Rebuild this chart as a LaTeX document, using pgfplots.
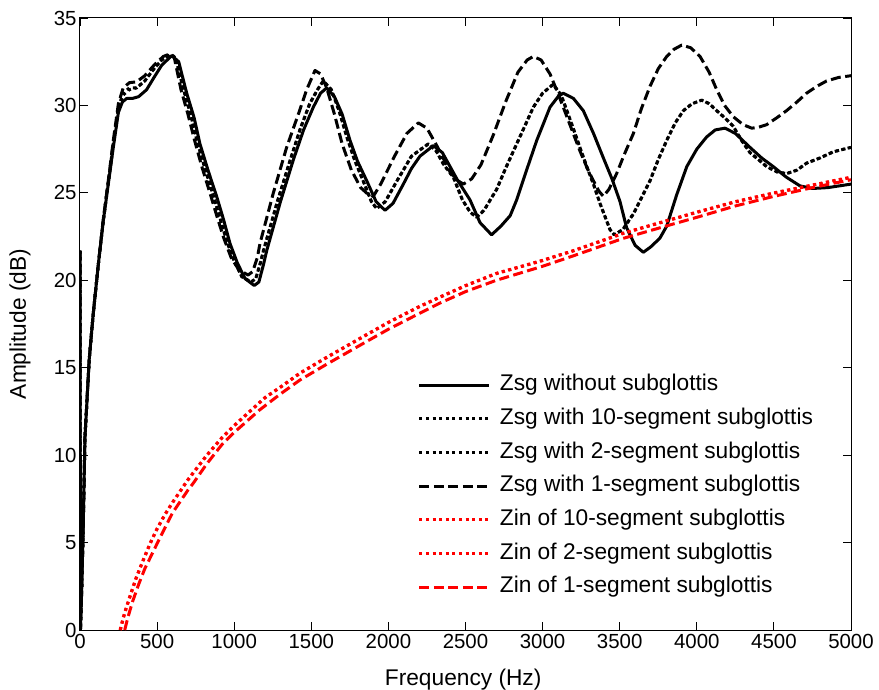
\documentclass[border=0pt]{standalone}
\usepackage{pgfplots}
\pgfplotsset{compat=1.18}
\usepackage{pgfplotstable}
\usepackage{fontspec}
\setmainfont{Liberation Sans}
\newcommand\tickfont{\fontsize{20.5}{24}\selectfont}
\newcommand\labfont{\fontsize{22.8}{27}\selectfont}

\pgfplotstableread{
f a
0 21.7
3 0
10 2.0
20 5.5
32 11.0
60 15.5
86 18.1
120 21.0
151 23.4
185 25.6
216 27.6
249 29.6
275 30.2
303 30.4
340 30.4
380 30.5
432 30.9
480 31.6
530 32.3
595 32.85
640 32.5
692 30.7
740 29.3
778 27.8
830 26.3
886 24.8
930 23.5
973 22.1
1020 21.0
1070 20.1
1130 19.7
1160 19.9
1190 20.9
1211 21.7
1300 24.5
1384 26.9
1450 28.6
1513 29.9
1560 30.7
1600 31.0
1650 30.5
1700 29.5
1751 28.0
1800 26.8
1859 25.7
1920 24.5
1978 24.0
2030 24.4
2097 25.5
2150 26.4
2205 27.1
2292 27.7
2350 27.3
2400 26.5
2450 25.7
2529 24.6
2594 23.3
2669 22.6
2730 23.1
2790 23.7
2832 24.6
2900 26.4
2962 28.0
3048 29.9
3100 30.5
3134 30.7
3200 30.4
3264 29.7
3330 28.4
3394 27.0
3450 25.8
3502 24.5
3545 23.0
3600 22.0
3653 21.6
3700 21.9
3760 22.4
3805 23.1
3870 24.9
3935 26.5
4000 27.5
4064 28.2
4120 28.6
4183 28.7
4250 28.4
4345 27.6
4420 27.0
4496 26.5
4580 25.9
4669 25.4
4750 25.25
4850 25.3
5000 25.5
}\solid

\pgfplotstableread{
f a
0 21.7
3 0
10 2.0
20 5.5
32 11.0
60 15.5
86 18.1
120 21.0
151 23.4
185 25.7
216 27.8
249 29.9
280 30.7
320 31.0
367 31.0
420 31.4
480 32.1
530 32.6
584 32.9
620 32.7
672 30.9
720 29.4
758 28.0
810 26.4
866 24.8
910 23.5
953 22.2
1000 21.1
1050 20.2
1110 19.9
1140 20.1
1170 21.0
1190 21.7
1280 24.5
1364 26.9
1430 28.7
1490 30.1
1540 30.9
1578 31.4
1630 30.9
1680 29.7
1730 28.2
1780 26.9
1840 25.6
1890 24.5
1924 24.1
1980 24.5
2050 25.6
2150 27.1
2259 27.8
2310 27.4
2360 26.6
2421 25.9
2480 24.6
2530 23.9
2572 23.6
2620 24.0
2702 25.2
2760 26.4
2832 27.8
2940 29.9
3000 30.7
3068 31.2
3120 30.6
3178 29.2
3230 27.9
3286 26.5
3330 25.5
3372 24.4
3437 22.9
3465 22.6
3520 22.9
3589 23.8
3640 24.7
3697 25.7
3750 26.9
3805 28.0
3860 29.0
3913 29.7
3970 30.1
4032 30.3
4080 30.1
4129 29.7
4180 29.3
4237 28.8
4290 28.0
4345 27.3
4400 26.9
4453 26.5
4520 26.2
4582 26.1
4650 26.3
4712 26.7
4800 27.0
4886 27.35
5000 27.6
}\dotA

\pgfplotstableread{
f a
0 21.7
3 0
10 2.0
20 5.5
32 11.0
60 15.5
86 18.1
120 21.0
151 23.4
185 25.7
216 27.8
249 29.9
280 30.6
320 30.9
367 31.0
420 31.4
480 32.1
530 32.6
584 32.9
620 32.7
672 30.9
720 29.4
758 28.0
810 26.4
866 24.8
910 23.5
953 22.2
1000 21.1
1050 20.2
1110 19.9
1140 20.1
1170 21.0
1190 21.7
1280 24.5
1364 26.9
1430 28.7
1490 30.1
1540 30.9
1578 31.4
1630 30.9
1680 29.7
1730 28.2
1780 26.9
1840 25.6
1890 24.5
1924 24.1
1980 24.5
2050 25.6
2150 27.1
2259 27.8
2310 27.4
2360 26.6
2421 25.9
2480 24.6
2530 23.9
2572 23.6
2620 24.0
2702 25.2
2760 26.4
2832 27.8
2940 29.9
3000 30.7
3068 31.2
3120 30.6
3178 29.2
3230 27.9
3286 26.5
3330 25.5
3372 24.4
3437 22.9
3465 22.6
3520 22.9
3589 23.8
3640 24.7
3697 25.7
3750 26.9
3805 28.0
3860 29.0
3913 29.7
3970 30.1
4032 30.3
4080 30.1
4129 29.7
4180 29.3
4237 28.8
4290 28.0
4345 27.3
4400 26.9
4453 26.5
4520 26.2
4582 26.1
4650 26.3
4712 26.7
4800 27.0
4886 27.35
5000 27.6
}\dotB

\pgfplotstableread{
f a
0 21.7
3 0
10 2.0
20 5.5
32 11.0
60 15.5
86 18.1
120 21.0
151 23.5
185 25.8
216 28.0
249 30.1
280 31.0
320 31.3
367 31.35
420 31.7
480 32.3
540 32.8
584 32.95
610 32.8
655 30.9
700 29.5
740 28.1
790 26.5
846 24.9
890 23.6
933 22.4
980 21.3
1030 20.6
1090 20.3
1120 20.5
1150 21.3
1167 22.1
1254 25.0
1340 27.6
1420 29.6
1470 30.9
1524 32.0
1560 31.8
1600 31.0
1650 29.5
1700 27.8
1760 26.3
1820 25.3
1870 24.9
1902 24.8
1950 25.5
2040 27.1
2120 28.4
2194 29.0
2250 28.7
2320 27.6
2400 26.2
2450 25.7
2486 25.5
2540 25.8
2600 26.6
2680 28.3
2760 30.2
2840 31.9
2900 32.6
2940 32.8
2990 32.6
3048 31.8
3090 30.9
3134 29.9
3190 28.6
3242 27.4
3290 26.4
3329 25.7
3365 25.1
3394 24.8
3430 25.2
3480 26.1
3530 27.2
3589 28.4
3640 29.8
3697 31.1
3750 32.1
3805 32.8
3850 33.2
3902 33.45
3960 33.3
4021 32.8
4080 31.9
4129 30.9
4180 30.0
4237 29.35
4300 28.9
4356 28.7
4400 28.75
4453 28.9
4520 29.3
4582 29.7
4650 30.2
4712 30.7
4780 31.1
4842 31.4
4920 31.6
5000 31.7
}\dashA

\pgfplotstableread{
f a
260 0
280 0.7
300 1.3
330 2.1
360 2.9
400 3.8
454 4.96
500 5.8
550 6.6
600 7.3
700 8.6
822 10.0
920 11.0
1000 11.7
1100 12.5
1200 13.3
1300 13.9
1427 14.7
1600 15.6
1859 16.9
2000 17.6
2200 18.5
2335 19.05
2500 19.7
2700 20.4
2983 21.1
3200 21.7
3524 22.7
3800 23.4
4000 23.9
4250 24.5
4500 25.0
4750 25.45
5000 25.9
}\redA

\pgfplotstableread{
f a
262 0
282 0.7
302 1.3
332 2.1
362 2.9
402 3.8
456 4.95
500 5.78
550 6.58
600 7.28
700 8.58
822 9.98
920 10.98
1000 11.68
1100 12.48
1200 13.28
1300 13.88
1427 14.68
1600 15.58
1859 16.88
2000 17.58
2200 18.48
2335 19.03
2500 19.68
2700 20.38
2983 21.08
3200 21.68
3524 22.68
3800 23.38
4000 23.88
4250 24.48
4500 24.98
4750 25.43
5000 25.88
}\redB

\pgfplotstableread{
f a
290 0
310 0.7
340 1.6
380 2.6
420 3.5
470 4.4
520 5.3
600 6.7
700 8.0
735 8.4
822 9.5
920 10.6
1000 11.3
1167 12.6
1300 13.5
1427 14.3
1600 15.2
1859 16.5
2000 17.2
2200 18.1
2335 18.7
2500 19.35
2700 20.0
3000 20.8
3200 21.4
3524 22.4
3800 23.1
4000 23.6
4250 24.25
4500 24.8
4750 25.3
5000 25.75
}\redC

\begin{document}
\begin{tikzpicture}
\begin{axis}[
  scale only axis, width=771bp, height=612bp,
  xmin=0, xmax=5000, ymin=0, ymax=35,
  xtick={0,500,...,5000}, ytick={0,5,...,35},
  tick align=inside, xtick pos=both, ytick pos=both,
  major tick length=8bp,
  scaled x ticks=false,
  /pgf/number format/1000 sep={},
  /pgf/number format/assume math mode=true,
  tick label style={font=\tickfont},
  xticklabel style={yshift=-1bp},
  axis line style={line width=1bp},
  every tick/.style={black, line width=0.9bp},
  xlabel={Frequency (Hz)}, ylabel={Amplitude (dB)},
  label style={font=\labfont},
  xlabel style={at={(axis description cs:0.497,-0.0817)}, anchor=center},
  ylabel style={at={(axis description cs:-0.0778,0.5)}, anchor=center},
  legend image code/.code={\draw[#1] (0bp,0bp) -- (70bp,0bp);},
  legend cell align=left,
  legend style={draw=none, fill=none, at={(axis description cs:0.438,0.4175)}, anchor=north west,
    font=\labfont, inner sep=0pt, row sep=12.7bp,
    nodes={inner sep=0pt, text height=16bp, text depth=5bp},
    /tikz/every odd column/.append style={column sep=9bp}},
]
\addplot[black, line width=3bp, line join=round] table[x=f,y=a] {\solid};
\addlegendentry{Zsg without subglottis}
\addplot[black, line width=3bp, line join=round, dash pattern=on 3bp off 3.6bp] table[x=f,y=a] {\dotA};
\addlegendentry{Zsg with 10-segment subglottis}
\addplot[black, line width=3bp, line join=round, dash pattern=on 3bp off 3.6bp] table[x=f,y=a] {\dotB};
\addlegendentry{Zsg with 2-segment subglottis}
\addplot[black, line width=3bp, line join=round, dash pattern=on 10bp off 4.5bp] table[x=f,y=a] {\dashA};
\addlegendentry{Zsg with 1-segment subglottis}
\addplot[red, line width=3bp, line join=round, dash pattern=on 3bp off 3.6bp] table[x=f,y=a] {\redA};
\addlegendentry{Zin of 10-segment subglottis}
\addplot[red, line width=3bp, line join=round, dash pattern=on 3bp off 3.6bp] table[x=f,y=a] {\redB};
\addlegendentry{Zin of 2-segment subglottis}
\addplot[red, line width=3bp, line join=round, dash pattern=on 10bp off 4.5bp] table[x=f,y=a] {\redC};
\addlegendentry{Zin of 1-segment subglottis}
\end{axis}
\pgfresetboundingbox
\path[use as bounding box] ([shift={(-80bp,-60bp)}]current axis.south west) rectangle ([shift={(28bp,18bp)}]current axis.north east);
\end{tikzpicture}
\end{document}
